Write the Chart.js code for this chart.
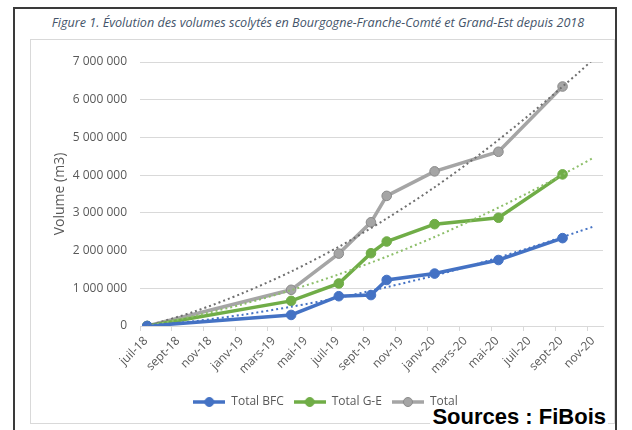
<!DOCTYPE html>
<html><head><meta charset="utf-8">
<script src="https://cdn.jsdelivr.net/npm/chart.js@4.4.0/dist/chart.umd.min.js"></script>
<style>
html,body{margin:0;padding:0;background:#fff;}
#wrap{position:relative;width:632px;height:430px;overflow:hidden;background:#fff;}
#outer{position:absolute;left:13px;top:7px;width:604px;height:450px;border:2px solid #3a3a3a;box-sizing:border-box;}
#inner{position:absolute;left:30px;top:39px;width:585px;height:385px;border:1px solid #d9d9d9;box-sizing:border-box;}
#title{position:absolute;left:16px;width:604px;top:14px;text-align:center;font:italic 12.6px 'Open Sans';color:#44546A;white-space:nowrap;}
#src{position:absolute;right:24px;top:404px;line-height:22px;font:bold 22px 'Liberation Sans';color:#000;background:#fff;padding:0 2px;}
canvas{position:absolute;left:0;top:0;}
</style>
</head><body>
<div id="wrap">
<div id="outer"></div>
<div id="inner"></div>
<div id="title">Figure 1. Évolution des volumes scolytés en Bourgogne-Franche-Comté et Grand-Est depuis 2018</div>
<div id="src">Sources : FiBois</div>
<canvas id="c" width="632" height="430"></canvas>
</div>
<script>
// ---- data ----
const tickLabels = ['juil-18','sept-18','nov-18','janv-19','mars-19','mai-19','juil-19','sept-19','nov-19','janv-20','mars-20','mai-20','juil-20','sept-20','nov-20'];
const dates = ['2018-07-15','2019-04-15','2019-07-15','2019-09-15','2019-10-15','2020-01-15','2020-05-15','2020-09-15'];
const totalBFC = [0, 293000, 790000, 820000, 1220000, 1390000, 1750000, 2330000];
const totalGE  = [0, 666000, 1127000, 1930000, 2240000, 2700000, 2870000, 4020000];
const total    = [0, 960000, 1920000, 2750000, 3450000, 4100000, 4620000, 6350000];
// dotted trend lines, read at a few dates
const trendDates = ['2018-07-15','2018-10-15','2019-01-15','2019-04-15','2019-07-15','2019-10-15','2020-01-15','2020-04-15','2020-07-15','2020-10-15','2020-11-14'];
const trendBFC   = [0, 130000, 300000, 510000, 750000, 1030000, 1340000, 1690000, 2080000, 2500000, 2640000];
const trendGE    = [0, 270000, 580000, 950000, 1370000, 1840000, 2360000, 2940000, 3560000, 4240000, 4470000];
const trendTotal = [0, 390000, 875000, 1445000, 2100000, 2850000, 3680000, 4610000, 5620000, 6710000, 7090000];
const seriesNames = ['Total BFC','Total G-E','Total'];

// months elapsed since 1 July 2018
function toMonths(s){
  const [y,m,d] = s.split('-').map(Number);
  const dim = new Date(y, m, 0).getDate();
  return (y-2018)*12 + (m-7) + (d-1)/dim;
}
const pts = (ds, vs) => ds.map((d,i)=>({x:toMonths(d), y:vs[i]}));

const BLUE='#4472C4', GREEN='#70AD47', GRAY='#A5A5A5';

function legendIcon(color, border){
  const c = document.createElement('canvas');
  c.width = 32; c.height = 12;
  const g = c.getContext('2d');
  g.strokeStyle = color; g.lineWidth = 3.5;
  g.beginPath(); g.moveTo(0,6); g.lineTo(32,6); g.stroke();
  g.fillStyle = color; g.strokeStyle = border; g.lineWidth = 1;
  g.beginPath(); g.arc(16,6,4.5,0,Math.PI*2); g.fill(); g.stroke();
  return c;
}
const icons = [legendIcon(BLUE,BLUE), legendIcon(GREEN,GREEN), legendIcon(GRAY,'#8a8a8a')];

Chart.defaults.font.family = "'Open Sans', sans-serif";
Chart.defaults.color = '#595959';

function mainSet(label, data, color, border){
  return {label, data: pts(dates, data), borderColor: color, backgroundColor: color,
    borderWidth: 3.5, pointRadius: 4.8, pointBorderColor: border, pointBackgroundColor: color,
    pointBorderWidth: 1, tension: 0, order: 2};
}
function trendSet(data, color){
  return {label: 'trend', data: pts(trendDates, data), borderColor: color, borderWidth: 2,
    borderDash: [2,3], pointRadius: 0, fill: false, tension: 0.3, order: 1};
}

new Chart(document.getElementById('c'), {
  type: 'line',
  data: {
    datasets: [
      mainSet(seriesNames[0], totalBFC, BLUE, BLUE),
      mainSet(seriesNames[1], totalGE, GREEN, GREEN),
      mainSet(seriesNames[2], total, GRAY, '#8a8a8a'),
      trendSet(trendBFC, BLUE),
      trendSet(trendGE, '#8DBF6A'),
      trendSet(trendTotal, '#6f6f6f')
    ]
  },
  options: {
    responsive: false,
    animation: false,
    layout: {padding: {left: 48, top: 62, right: 29, bottom: 12}},
    plugins: {
      title: {display: false},
      tooltip: {enabled: false},
      legend: {
        position: 'bottom',
        labels: {
          usePointStyle: true, pointStyleWidth: 32, padding: 10,
          font: {size: 12}, color: '#595959',
          filter: (item) => item.datasetIndex < 3,
          generateLabels: (chart) => {
            const items = Chart.defaults.plugins.legend.labels.generateLabels(chart);
            items.forEach(it => { if (it.datasetIndex < 3) it.pointStyle = icons[it.datasetIndex]; });
            return items;
          }
        }
      }
    },
    scales: {
      x: {
        type: 'linear', min: 0, max: 29,
        afterBuildTicks: (s) => { s.ticks = tickLabels.map((_,i)=>({value: i*2})); },
        afterFit: (s) => { s.height = 60; },
        ticks: {autoSkip: false, minRotation: 45, maxRotation: 45, padding: 3, labelOffset: 6, font: {size: 12}, color: '#595959',
          callback: (v) => tickLabels[Math.round(v/2)]},
        grid: {drawOnChartArea: false, drawTicks: true, tickLength: 5, color: '#d9d9d9'},
        border: {color: '#d9d9d9', width: 1}
      },
      y: {
        min: 0, max: 7000000,
        afterFit: (s) => { s.width = 92; },
        ticks: {stepSize: 1000000, padding: 13, font: {size: 12}, color: '#595959',
          callback: (v) => String(v).replace(/\B(?=(\d{3})+(?!\d))/g, ' ')},
        grid: {color: '#d9d9d9', drawTicks: false},
        border: {display: false},
        title: {display: true, text: 'Volume (m3)', font: {size: 14}, color: '#595959', padding: {top: 4, bottom: 4}}
      }
    }
  }
});
</script>
</body></html>
